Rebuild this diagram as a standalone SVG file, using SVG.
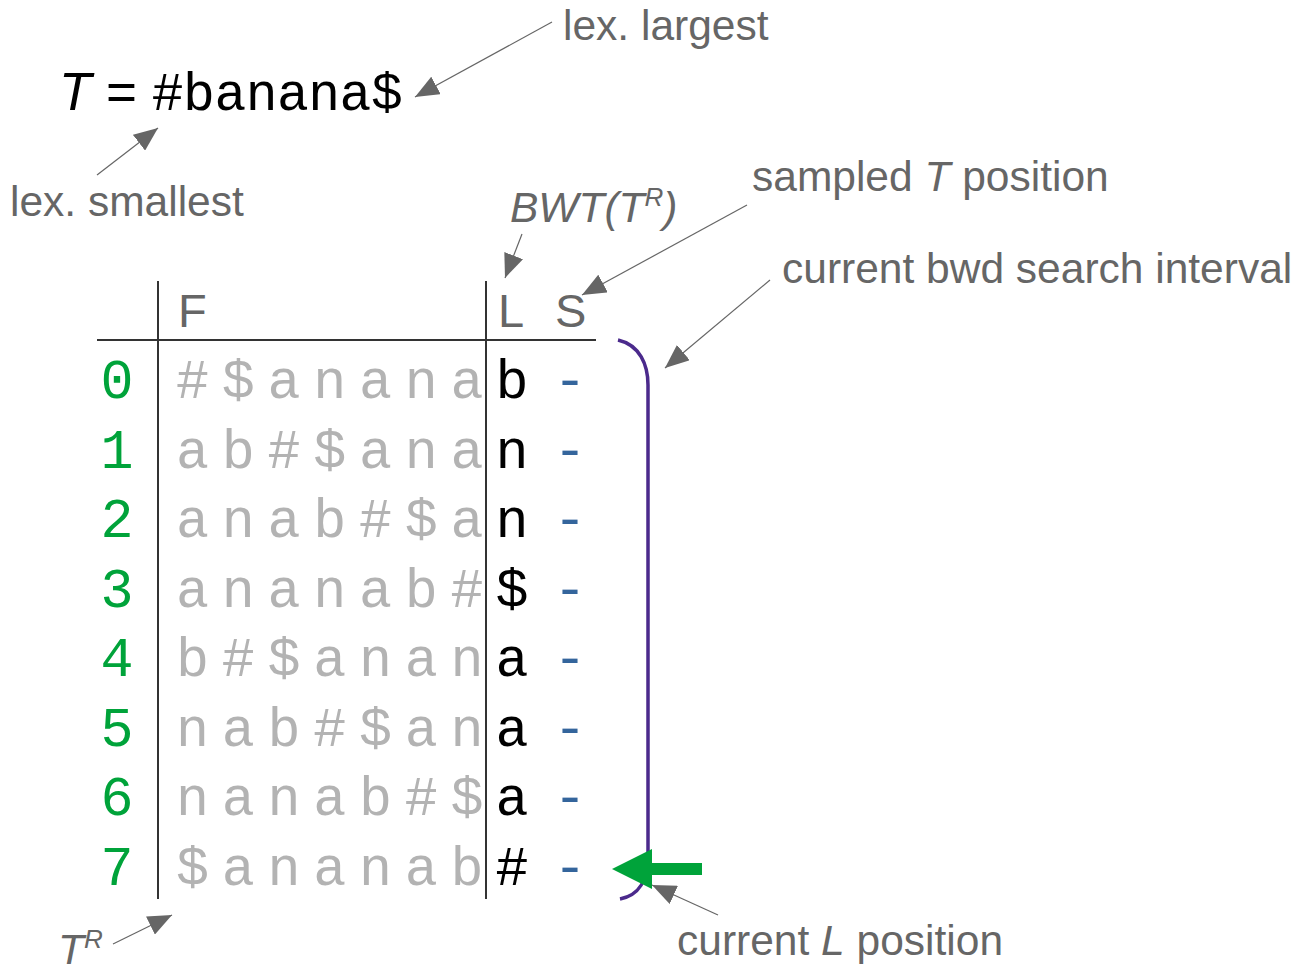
<svg xmlns="http://www.w3.org/2000/svg" width="1296" height="974" viewBox="0 0 1296 974">
  <defs>
    <marker id="ah" viewBox="0 0 24 20" refX="24" refY="10" markerWidth="24" markerHeight="20" markerUnits="userSpaceOnUse" orient="auto">
      <path d="M0,0 L24,10 L0,20 z" fill="#666666"/>
    </marker>
  </defs>
  <style>
    .note { font-family: "Liberation Sans", Arial, sans-serif; font-size: 42.5px; fill: #666666; }
    .it { font-style: italic; }
    .mono { font-family: "Liberation Mono", "Courier New", monospace; font-size: 55px; }
    .idx { fill: #00a33a; }
    .f { fill: #b3b3b3; }
    .l { fill: #000000; }
    .s { fill: #34659c; }
    .hdr { font-family: "Liberation Sans", Arial, sans-serif; font-size: 47px; fill: #666666; }
    .grid { stroke: #333333; stroke-width: 2; fill: none; }
    .lead { stroke: #666666; stroke-width: 1.2; fill: none; marker-end: url(#ah); }
  </style>
  <rect width="1296" height="974" fill="#ffffff"/>

  <!-- text T -->
  <g id="text-t">
    <text x="59" y="110" font-family="Liberation Sans, Arial, sans-serif" font-size="53" fill="#000"><tspan font-style="italic">T</tspan> = <tspan font-family="Liberation Mono, Courier New, monospace" letter-spacing="-0.5">#banana$</tspan></text>
  </g>

  <!-- table frame -->
  <g id="table-grid">
    <line class="grid" x1="97" y1="340" x2="596" y2="340"/>
    <line class="grid" x1="158" y1="281" x2="158" y2="899"/>
    <line class="grid" x1="486" y1="281" x2="486" y2="899"/>
  </g>

  <g id="table-header" class="hdr">
    <text x="178" y="327">F</text>
    <text x="498" y="327">L</text>
    <text x="555" y="327">S</text>
  </g>

  <!-- row indices -->
  <g id="col-index" class="mono idx" text-anchor="middle">
    <text x="117" y="398">0</text>
    <text x="117" y="467.5">1</text>
    <text x="117" y="537">2</text>
    <text x="117" y="606.5">3</text>
    <text x="117" y="676">4</text>
    <text x="117" y="745.5">5</text>
    <text x="117" y="815">6</text>
    <text x="117" y="884.5">7</text>
  </g>

  <!-- sorted rotations (F) -->
  <g id="col-f" class="mono f" text-anchor="middle">
    <text x="192.5 238.25 284 329.75 375.5 421.25 467" y="398">#$anana</text>
    <text x="192.5 238.25 284 329.75 375.5 421.25 467" y="467.5">ab#$ana</text>
    <text x="192.5 238.25 284 329.75 375.5 421.25 467" y="537">anab#$a</text>
    <text x="192.5 238.25 284 329.75 375.5 421.25 467" y="606.5">ananab#</text>
    <text x="192.5 238.25 284 329.75 375.5 421.25 467" y="676">b#$anan</text>
    <text x="192.5 238.25 284 329.75 375.5 421.25 467" y="745.5">nab#$an</text>
    <text x="192.5 238.25 284 329.75 375.5 421.25 467" y="815">nanab#$</text>
    <text x="192.5 238.25 284 329.75 375.5 421.25 467" y="884.5">$ananab</text>
  </g>

  <!-- last column (L) -->
  <g id="col-l" class="mono l" text-anchor="middle">
    <text x="512" y="398">b</text>
    <text x="512" y="467.5">n</text>
    <text x="512" y="537">n</text>
    <text x="512" y="606.5">$</text>
    <text x="512" y="676">a</text>
    <text x="512" y="745.5">a</text>
    <text x="512" y="815">a</text>
    <text x="512" y="884.5">#</text>
  </g>

  <!-- samples (S) -->
  <g id="col-s" class="mono s" text-anchor="middle">
    <text x="570" y="398">-</text>
    <text x="570" y="467.5">-</text>
    <text x="570" y="537">-</text>
    <text x="570" y="606.5">-</text>
    <text x="570" y="676">-</text>
    <text x="570" y="745.5">-</text>
    <text x="570" y="815">-</text>
    <text x="570" y="884.5">-</text>
  </g>

  <!-- search interval bracket -->
  <g id="interval">
    <path d="M618,340 C640,345 648,365 648,385 L648,855 C648,880 640,895 620,899" stroke="#4b2a8c" stroke-width="3.5" fill="none"/>
  </g>

  <!-- current position pointer -->
  <g id="cursor">
    <path d="M702,863 L652,863 L652,849 L612,869 L652,889 L652,875 L702,875 Z" fill="#00a33a"/>
  </g>

  <!-- annotation labels -->
  <g id="label-largest"><text class="note" x="563" y="40">lex. largest</text></g>
  <g id="label-smallest"><text class="note" x="10" y="216">lex. smallest</text></g>
  <g id="label-bwt"><text class="note it" x="510" y="222">BWT(T<tspan font-size="26" dy="-16">R</tspan><tspan dy="16">)</tspan></text></g>
  <g id="label-sampled"><text class="note" x="752" y="191">sampled <tspan font-style="italic">T</tspan> position</text></g>
  <g id="label-interval"><text class="note" x="782" y="283">current bwd search interval</text></g>
  <g id="label-current"><text class="note" x="677" y="955">current <tspan font-style="italic">L</tspan> position</text></g>
  <g id="label-tr"><text class="note it" x="58" y="964">T<tspan font-size="26" dy="-16">R</tspan></text></g>

  <!-- leader lines -->
  <g id="connectors">
    <line class="lead" x1="552" y1="22" x2="415" y2="97"/>
    <line class="lead" x1="97" y1="175" x2="158" y2="128"/>
    <line class="lead" x1="522" y1="234" x2="505" y2="278"/>
    <line class="lead" x1="747" y1="205" x2="582" y2="295"/>
    <line class="lead" x1="770" y1="280" x2="665" y2="368"/>
    <line class="lead" x1="718" y1="915" x2="652" y2="885"/>
    <line class="lead" x1="113" y1="944" x2="172" y2="915"/>
  </g>
</svg>
